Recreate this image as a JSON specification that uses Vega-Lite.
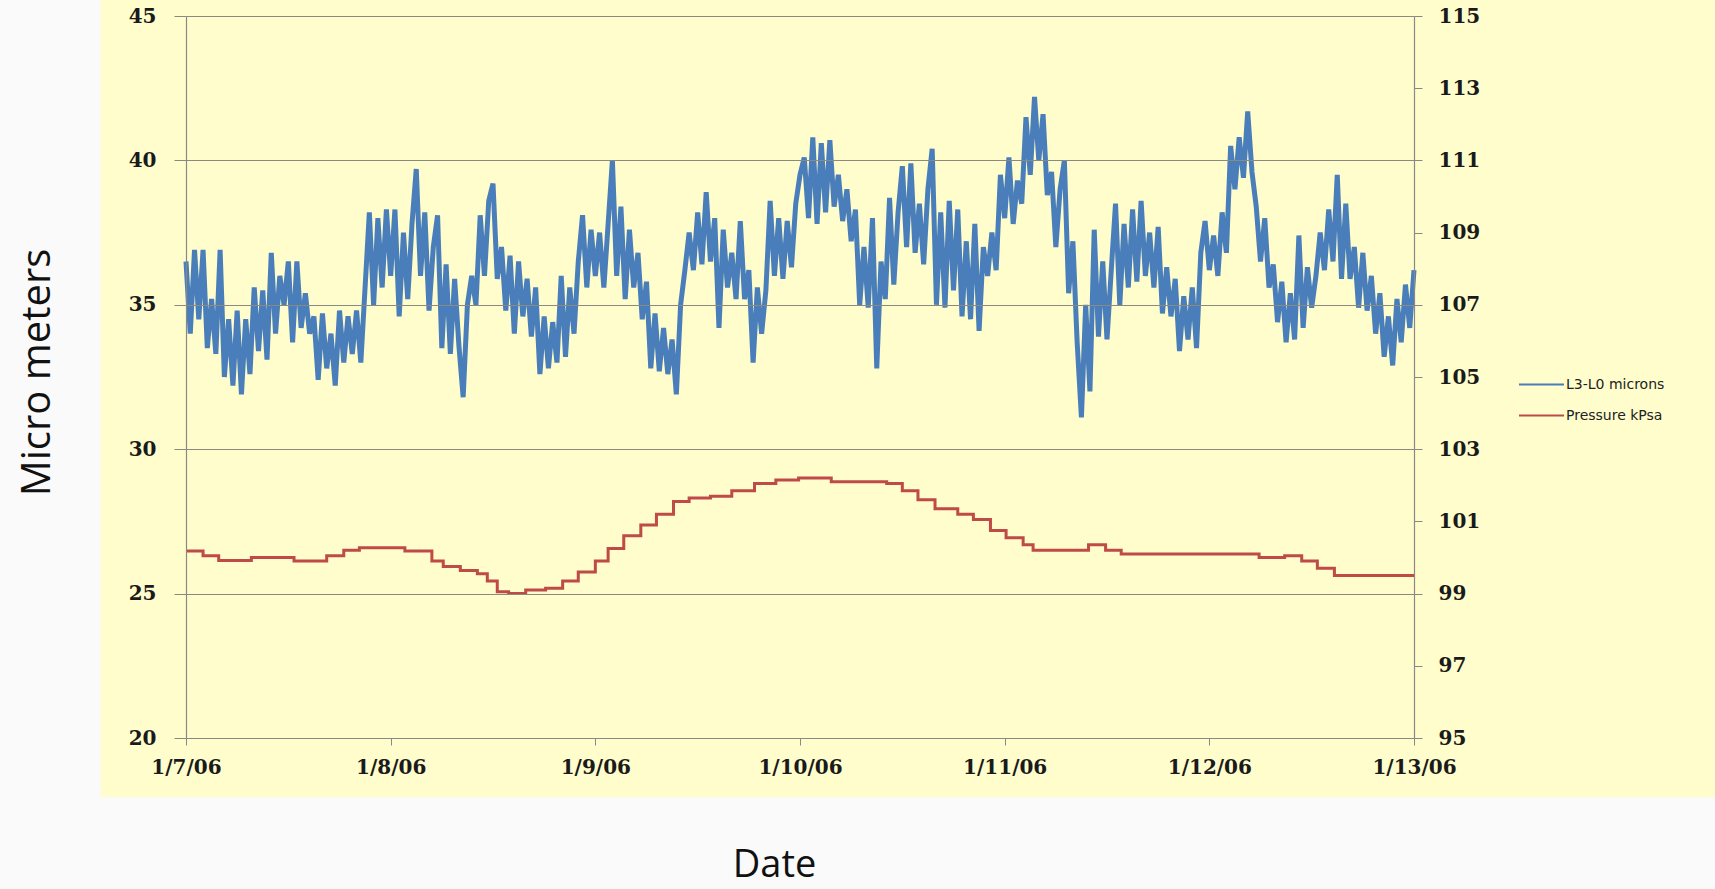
{
  "$schema": "https://vega.github.io/schema/vega-lite/v6.json",
  "width": 1228,
  "height": 722,
  "autosize": {"type": "none"},
  "padding": {"left": 186, "top": 16, "right": 301, "bottom": 151},
  "background": "#fafafa",
  "config": {"view": {"stroke": null}},
  "datasets": {
    "micro": [
      {"t":"2006-01-07T00:00","v":36.5},{"t":"2006-01-07T00:30","v":34.0},{"t":"2006-01-07T01:00","v":36.9},{"t":"2006-01-07T01:30","v":34.5},{"t":"2006-01-07T02:00","v":36.9},{"t":"2006-01-07T02:30","v":33.5},{"t":"2006-01-07T03:00","v":35.2},{"t":"2006-01-07T03:30","v":33.3},{"t":"2006-01-07T04:00","v":36.9},{"t":"2006-01-07T04:30","v":32.5},{"t":"2006-01-07T05:00","v":34.5},{"t":"2006-01-07T05:30","v":32.2},{"t":"2006-01-07T06:00","v":34.8},{"t":"2006-01-07T06:30","v":31.9},{"t":"2006-01-07T07:00","v":34.5},{"t":"2006-01-07T07:30","v":32.6},{"t":"2006-01-07T08:00","v":35.6},{"t":"2006-01-07T08:30","v":33.4},{"t":"2006-01-07T09:00","v":35.5},{"t":"2006-01-07T09:30","v":33.1},{"t":"2006-01-07T10:00","v":36.8},{"t":"2006-01-07T10:30","v":34.0},{"t":"2006-01-07T11:00","v":36.0},{"t":"2006-01-07T11:30","v":35.0},{"t":"2006-01-07T12:00","v":36.5},{"t":"2006-01-07T12:30","v":33.7},{"t":"2006-01-07T13:00","v":36.5},{"t":"2006-01-07T13:30","v":34.2},{"t":"2006-01-07T14:00","v":35.4},{"t":"2006-01-07T14:30","v":34.0},{"t":"2006-01-07T15:00","v":34.6},{"t":"2006-01-07T15:30","v":32.4},{"t":"2006-01-07T16:00","v":34.7},{"t":"2006-01-07T16:30","v":32.8},{"t":"2006-01-07T17:00","v":34.0},{"t":"2006-01-07T17:30","v":32.2},{"t":"2006-01-07T18:00","v":34.8},{"t":"2006-01-07T18:30","v":33.0},{"t":"2006-01-07T19:00","v":34.6},{"t":"2006-01-07T19:30","v":33.3},{"t":"2006-01-07T20:00","v":34.8},{"t":"2006-01-07T20:30","v":33.0},{"t":"2006-01-07T21:00","v":35.6},{"t":"2006-01-07T21:30","v":38.2},{"t":"2006-01-07T22:00","v":35.0},{"t":"2006-01-07T22:30","v":38.0},{"t":"2006-01-07T23:00","v":35.6},{"t":"2006-01-07T23:30","v":38.3},
      {"t":"2006-01-08T00:00","v":36.0},{"t":"2006-01-08T00:30","v":38.3},{"t":"2006-01-08T01:00","v":34.6},{"t":"2006-01-08T01:30","v":37.5},{"t":"2006-01-08T02:00","v":35.2},{"t":"2006-01-08T02:30","v":37.8},{"t":"2006-01-08T03:00","v":39.7},{"t":"2006-01-08T03:30","v":36.0},{"t":"2006-01-08T04:00","v":38.2},{"t":"2006-01-08T04:30","v":34.8},{"t":"2006-01-08T05:00","v":37.0},{"t":"2006-01-08T05:30","v":38.1},{"t":"2006-01-08T06:00","v":33.5},{"t":"2006-01-08T06:30","v":36.4},{"t":"2006-01-08T07:00","v":33.3},{"t":"2006-01-08T07:30","v":35.9},{"t":"2006-01-08T08:00","v":33.6},{"t":"2006-01-08T08:30","v":31.8},{"t":"2006-01-08T09:00","v":35.0},{"t":"2006-01-08T09:30","v":36.0},{"t":"2006-01-08T10:00","v":35.0},{"t":"2006-01-08T10:30","v":38.1},{"t":"2006-01-08T11:00","v":36.0},{"t":"2006-01-08T11:30","v":38.6},{"t":"2006-01-08T12:00","v":39.2},{"t":"2006-01-08T12:30","v":35.9},{"t":"2006-01-08T13:00","v":37.0},{"t":"2006-01-08T13:30","v":34.8},{"t":"2006-01-08T14:00","v":36.7},{"t":"2006-01-08T14:30","v":34.0},{"t":"2006-01-08T15:00","v":36.5},{"t":"2006-01-08T15:30","v":34.6},{"t":"2006-01-08T16:00","v":35.9},{"t":"2006-01-08T16:30","v":33.9},{"t":"2006-01-08T17:00","v":35.6},{"t":"2006-01-08T17:30","v":32.6},{"t":"2006-01-08T18:00","v":34.6},{"t":"2006-01-08T18:30","v":32.8},{"t":"2006-01-08T19:00","v":34.4},{"t":"2006-01-08T19:30","v":33.0},{"t":"2006-01-08T20:00","v":36.0},{"t":"2006-01-08T20:30","v":33.2},{"t":"2006-01-08T21:00","v":35.6},{"t":"2006-01-08T21:30","v":34.0},{"t":"2006-01-08T22:00","v":36.5},{"t":"2006-01-08T22:30","v":38.1},{"t":"2006-01-08T23:00","v":35.6},{"t":"2006-01-08T23:30","v":37.6},
      {"t":"2006-01-09T00:00","v":36.0},{"t":"2006-01-09T00:30","v":37.5},{"t":"2006-01-09T01:00","v":35.6},{"t":"2006-01-09T01:30","v":37.8},{"t":"2006-01-09T02:00","v":40.0},{"t":"2006-01-09T02:30","v":36.0},{"t":"2006-01-09T03:00","v":38.4},{"t":"2006-01-09T03:30","v":35.2},{"t":"2006-01-09T04:00","v":37.6},{"t":"2006-01-09T04:30","v":35.6},{"t":"2006-01-09T05:00","v":36.8},{"t":"2006-01-09T05:30","v":34.5},{"t":"2006-01-09T06:00","v":35.8},{"t":"2006-01-09T06:30","v":32.8},{"t":"2006-01-09T07:00","v":34.7},{"t":"2006-01-09T07:30","v":32.7},{"t":"2006-01-09T08:00","v":34.2},{"t":"2006-01-09T08:30","v":32.6},{"t":"2006-01-09T09:00","v":33.8},{"t":"2006-01-09T09:30","v":31.9},{"t":"2006-01-09T10:00","v":35.0},{"t":"2006-01-09T10:30","v":36.2},{"t":"2006-01-09T11:00","v":37.5},{"t":"2006-01-09T11:30","v":36.2},{"t":"2006-01-09T12:00","v":38.2},{"t":"2006-01-09T12:30","v":36.4},{"t":"2006-01-09T13:00","v":38.9},{"t":"2006-01-09T13:30","v":36.5},{"t":"2006-01-09T14:00","v":38.0},{"t":"2006-01-09T14:30","v":34.2},{"t":"2006-01-09T15:00","v":37.6},{"t":"2006-01-09T15:30","v":35.6},{"t":"2006-01-09T16:00","v":36.8},{"t":"2006-01-09T16:30","v":35.2},{"t":"2006-01-09T17:00","v":37.9},{"t":"2006-01-09T17:30","v":35.2},{"t":"2006-01-09T18:00","v":36.2},{"t":"2006-01-09T18:30","v":33.0},{"t":"2006-01-09T19:00","v":35.6},{"t":"2006-01-09T19:30","v":34.0},{"t":"2006-01-09T20:00","v":35.5},{"t":"2006-01-09T20:30","v":38.6},{"t":"2006-01-09T21:00","v":36.0},{"t":"2006-01-09T21:30","v":38.0},{"t":"2006-01-09T22:00","v":35.9},{"t":"2006-01-09T22:30","v":37.9},{"t":"2006-01-09T23:00","v":36.3},{"t":"2006-01-09T23:30","v":38.5},
      {"t":"2006-01-10T00:00","v":39.5},{"t":"2006-01-10T00:30","v":40.1},{"t":"2006-01-10T01:00","v":38.0},{"t":"2006-01-10T01:30","v":40.8},{"t":"2006-01-10T02:00","v":37.8},{"t":"2006-01-10T02:30","v":40.6},{"t":"2006-01-10T03:00","v":38.2},{"t":"2006-01-10T03:30","v":40.7},{"t":"2006-01-10T04:00","v":38.4},{"t":"2006-01-10T04:30","v":39.5},{"t":"2006-01-10T05:00","v":37.9},{"t":"2006-01-10T05:30","v":39.0},{"t":"2006-01-10T06:00","v":37.2},{"t":"2006-01-10T06:30","v":38.3},{"t":"2006-01-10T07:00","v":35.0},{"t":"2006-01-10T07:30","v":37.0},{"t":"2006-01-10T08:00","v":34.9},{"t":"2006-01-10T08:30","v":38.0},{"t":"2006-01-10T09:00","v":32.8},{"t":"2006-01-10T09:30","v":36.5},{"t":"2006-01-10T10:00","v":35.2},{"t":"2006-01-10T10:30","v":38.7},{"t":"2006-01-10T11:00","v":35.7},{"t":"2006-01-10T11:30","v":38.2},{"t":"2006-01-10T12:00","v":39.8},{"t":"2006-01-10T12:30","v":37.0},{"t":"2006-01-10T13:00","v":39.9},{"t":"2006-01-10T13:30","v":36.8},{"t":"2006-01-10T14:00","v":38.5},{"t":"2006-01-10T14:30","v":36.4},{"t":"2006-01-10T15:00","v":39.0},{"t":"2006-01-10T15:30","v":40.4},{"t":"2006-01-10T16:00","v":35.0},{"t":"2006-01-10T16:30","v":38.2},{"t":"2006-01-10T17:00","v":34.9},{"t":"2006-01-10T17:30","v":38.6},{"t":"2006-01-10T18:00","v":35.5},{"t":"2006-01-10T18:30","v":38.3},{"t":"2006-01-10T19:00","v":34.6},{"t":"2006-01-10T19:30","v":37.2},{"t":"2006-01-10T20:00","v":34.5},{"t":"2006-01-10T20:30","v":37.8},{"t":"2006-01-10T21:00","v":34.1},{"t":"2006-01-10T21:30","v":37.0},{"t":"2006-01-10T22:00","v":36.0},{"t":"2006-01-10T22:30","v":37.5},{"t":"2006-01-10T23:00","v":36.2},{"t":"2006-01-10T23:30","v":39.5},
      {"t":"2006-01-11T00:00","v":38.0},{"t":"2006-01-11T00:30","v":40.1},{"t":"2006-01-11T01:00","v":37.8},{"t":"2006-01-11T01:30","v":39.3},{"t":"2006-01-11T02:00","v":38.5},{"t":"2006-01-11T02:30","v":41.5},{"t":"2006-01-11T03:00","v":39.5},{"t":"2006-01-11T03:30","v":42.2},{"t":"2006-01-11T04:00","v":40.0},{"t":"2006-01-11T04:30","v":41.6},{"t":"2006-01-11T05:00","v":38.8},{"t":"2006-01-11T05:30","v":39.6},{"t":"2006-01-11T06:00","v":37.0},{"t":"2006-01-11T06:30","v":39.0},{"t":"2006-01-11T07:00","v":40.0},{"t":"2006-01-11T07:30","v":35.4},{"t":"2006-01-11T08:00","v":37.2},{"t":"2006-01-11T08:30","v":33.7},{"t":"2006-01-11T09:00","v":31.1},{"t":"2006-01-11T09:30","v":35.0},{"t":"2006-01-11T10:00","v":32.0},{"t":"2006-01-11T10:30","v":37.6},{"t":"2006-01-11T11:00","v":33.9},{"t":"2006-01-11T11:30","v":36.5},{"t":"2006-01-11T12:00","v":33.8},{"t":"2006-01-11T12:30","v":36.2},{"t":"2006-01-11T13:00","v":38.5},{"t":"2006-01-11T13:30","v":35.0},{"t":"2006-01-11T14:00","v":37.8},{"t":"2006-01-11T14:30","v":35.6},{"t":"2006-01-11T15:00","v":38.3},{"t":"2006-01-11T15:30","v":35.8},{"t":"2006-01-11T16:00","v":38.6},{"t":"2006-01-11T16:30","v":36.0},{"t":"2006-01-11T17:00","v":37.5},{"t":"2006-01-11T17:30","v":35.6},{"t":"2006-01-11T18:00","v":37.7},{"t":"2006-01-11T18:30","v":34.7},{"t":"2006-01-11T19:00","v":36.3},{"t":"2006-01-11T19:30","v":34.6},{"t":"2006-01-11T20:00","v":35.9},{"t":"2006-01-11T20:30","v":33.4},{"t":"2006-01-11T21:00","v":35.3},{"t":"2006-01-11T21:30","v":33.8},{"t":"2006-01-11T22:00","v":35.6},{"t":"2006-01-11T22:30","v":33.5},{"t":"2006-01-11T23:00","v":36.8},{"t":"2006-01-11T23:30","v":37.9},
      {"t":"2006-01-12T00:00","v":36.2},{"t":"2006-01-12T00:30","v":37.4},{"t":"2006-01-12T01:00","v":36.0},{"t":"2006-01-12T01:30","v":38.2},{"t":"2006-01-12T02:00","v":36.8},{"t":"2006-01-12T02:30","v":40.5},{"t":"2006-01-12T03:00","v":39.0},{"t":"2006-01-12T03:30","v":40.8},{"t":"2006-01-12T04:00","v":39.4},{"t":"2006-01-12T04:30","v":41.7},{"t":"2006-01-12T05:00","v":39.6},{"t":"2006-01-12T05:30","v":38.4},{"t":"2006-01-12T06:00","v":36.5},{"t":"2006-01-12T06:30","v":38.0},{"t":"2006-01-12T07:00","v":35.6},{"t":"2006-01-12T07:30","v":36.4},{"t":"2006-01-12T08:00","v":34.4},{"t":"2006-01-12T08:30","v":35.8},{"t":"2006-01-12T09:00","v":33.7},{"t":"2006-01-12T09:30","v":35.4},{"t":"2006-01-12T10:00","v":33.8},{"t":"2006-01-12T10:30","v":37.4},{"t":"2006-01-12T11:00","v":34.2},{"t":"2006-01-12T11:30","v":36.3},{"t":"2006-01-12T12:00","v":34.9},{"t":"2006-01-12T12:30","v":36.0},{"t":"2006-01-12T13:00","v":37.5},{"t":"2006-01-12T13:30","v":36.2},{"t":"2006-01-12T14:00","v":38.3},{"t":"2006-01-12T14:30","v":36.5},{"t":"2006-01-12T15:00","v":39.5},{"t":"2006-01-12T15:30","v":35.9},{"t":"2006-01-12T16:00","v":38.5},{"t":"2006-01-12T16:30","v":35.9},{"t":"2006-01-12T17:00","v":37.0},{"t":"2006-01-12T17:30","v":34.9},{"t":"2006-01-12T18:00","v":36.8},{"t":"2006-01-12T18:30","v":34.8},{"t":"2006-01-12T19:00","v":36.0},{"t":"2006-01-12T19:30","v":34.0},{"t":"2006-01-12T20:00","v":35.4},{"t":"2006-01-12T20:30","v":33.2},{"t":"2006-01-12T21:00","v":34.6},{"t":"2006-01-12T21:30","v":32.9},{"t":"2006-01-12T22:00","v":35.2},{"t":"2006-01-12T22:30","v":33.7},{"t":"2006-01-12T23:00","v":35.7},{"t":"2006-01-12T23:30","v":34.2},
      {"t":"2006-01-13T00:00","v":36.2}
    ],
    "pressure": [
      {"t":"2006-01-07T00:00","p":100.18},{"t":"2006-01-07T02:00","p":100.05},{"t":"2006-01-07T03:50","p":99.92},{"t":"2006-01-07T07:40","p":100.0},{"t":"2006-01-07T11:30","p":100.0},{"t":"2006-01-07T12:40","p":99.9},{"t":"2006-01-07T14:40","p":99.9},{"t":"2006-01-07T16:30","p":100.05},{"t":"2006-01-07T18:30","p":100.2},{"t":"2006-01-07T20:20","p":100.27},
      {"t":"2006-01-08T00:10","p":100.27},{"t":"2006-01-08T01:40","p":100.18},{"t":"2006-01-08T03:40","p":100.18},{"t":"2006-01-08T04:50","p":99.9},{"t":"2006-01-08T06:10","p":99.75},{"t":"2006-01-08T08:10","p":99.64},{"t":"2006-01-08T10:10","p":99.55},{"t":"2006-01-08T11:20","p":99.35},{"t":"2006-01-08T12:30","p":99.05},{"t":"2006-01-08T13:50","p":99.0},{"t":"2006-01-08T15:50","p":99.1},{"t":"2006-01-08T18:10","p":99.15},{"t":"2006-01-08T20:10","p":99.35},{"t":"2006-01-08T22:00","p":99.6},
      {"t":"2006-01-09T00:00","p":99.9},{"t":"2006-01-09T01:30","p":100.25},{"t":"2006-01-09T03:20","p":100.6},{"t":"2006-01-09T05:20","p":100.9},{"t":"2006-01-09T07:10","p":101.2},{"t":"2006-01-09T09:10","p":101.55},{"t":"2006-01-09T11:00","p":101.65},{"t":"2006-01-09T13:30","p":101.7},{"t":"2006-01-09T16:00","p":101.85},{"t":"2006-01-09T18:40","p":102.05},{"t":"2006-01-09T21:10","p":102.15},{"t":"2006-01-09T23:50","p":102.2},
      {"t":"2006-01-10T03:40","p":102.1},{"t":"2006-01-10T10:10","p":102.05},{"t":"2006-01-10T12:00","p":101.85},{"t":"2006-01-10T13:50","p":101.6},{"t":"2006-01-10T15:50","p":101.35},{"t":"2006-01-10T18:30","p":101.2},{"t":"2006-01-10T20:20","p":101.05},{"t":"2006-01-10T22:20","p":100.75},
      {"t":"2006-01-11T00:10","p":100.55},{"t":"2006-01-11T02:10","p":100.35},{"t":"2006-01-11T03:20","p":100.2},{"t":"2006-01-11T07:50","p":100.2},{"t":"2006-01-11T09:50","p":100.35},{"t":"2006-01-11T11:50","p":100.2},{"t":"2006-01-11T13:40","p":100.1},
      {"t":"2006-01-12T03:10","p":100.1},{"t":"2006-01-12T05:50","p":100.0},{"t":"2006-01-12T08:50","p":100.05},{"t":"2006-01-12T10:50","p":99.9},{"t":"2006-01-12T12:40","p":99.7},{"t":"2006-01-12T14:40","p":99.5},
      {"t":"2006-01-13T00:00","p":99.5}
    ]
  },
  "layer": [
    {
      "layer": [
        {
          "data": {"values": [{}]},
          "mark": {"type": "rect", "color": "#fffdcc"},
          "encoding": {
            "x": {"datum": {"year": 2006, "month": 1, "date": 6, "hours": 14, "minutes": 0}, "type": "temporal"},
            "x2": {"datum": {"year": 2006, "month": 1, "date": 14, "hours": 20, "minutes": 0}},
            "y": {"datum": 46.5, "type": "quantitative"},
            "y2": {"datum": 17.96}
          }
        },
        {
          "data": {"name": "micro"},
          "mark": {"type": "line", "strokeWidth": 5, "strokeJoin": "miter", "interpolate": "linear"},
          "encoding": {
            "x": {
              "field": "t", "type": "temporal",
              "scale": {"domain": [{"year": 2006, "month": 1, "date": 7}, {"year": 2006, "month": 1, "date": 13}], "nice": false},
              "axis": {
                "zindex": 1,
                "values": [{"year": 2006, "month": 1, "date": 7}, {"year": 2006, "month": 1, "date": 8}, {"year": 2006, "month": 1, "date": 9}, {"year": 2006, "month": 1, "date": 10}, {"year": 2006, "month": 1, "date": 11}, {"year": 2006, "month": 1, "date": 12}, {"year": 2006, "month": 1, "date": 13}],
                "format": "%-m/%-d/%y",
                "grid": false,
                "title": "Date",
                "titleFont": "Open Sans", "titleFontSize": 38, "titleFontWeight": "normal", "titleColor": "#111111",
                "titleX": 588, "titleY": 138, "titleAnchor": null, "titleAlign": "center", "titleBaseline": "alphabetic",
                "labelFont": "DejaVu Serif", "labelFontSize": 20, "labelFontWeight": "bold", "labelColor": "#1a1a1a",
                "labelFlush": false, "labelOverlap": false, "labelPadding": 12,
                "tickSize": 7, "tickColor": "#888888", "domainColor": "#888888", "domainWidth": 1.2
              }
            },
            "y": {
              "field": "v", "type": "quantitative",
              "scale": {"domain": [20, 45], "nice": false, "zero": false},
              "axis": {
                "zindex": 1,
                "orient": "left",
                "values": [20, 25, 30, 35, 40, 45],
                "grid": true, "gridColor": "#8a8a80", "gridWidth": 1.1,
                "title": "Micro meters",
                "titleFont": "Open Sans", "titleFontSize": 40, "titleFontWeight": "normal", "titleColor": "#111111",
                "titleAngle": -90, "titleX": -137, "titleY": 356, "titleAlign": "center", "titleBaseline": "alphabetic", "titleAnchor": null,
                "labelFont": "DejaVu Serif", "labelFontSize": 20, "labelFontWeight": "bold", "labelColor": "#1a1a1a",
                "labelPadding": 18, "labelFlush": false,
                "tickSize": 12, "tickColor": "#888888", "domainColor": "#888888", "domainWidth": 1.2
              }
            },
            "color": {
              "datum": "L3-L0 microns",
              "scale": {"domain": ["L3-L0 microns", "Pressure kPsa"], "range": ["#4a7ebb", "#be4b48"]},
              "legend": {
                "orient": "none", "legendX": 1332, "legendY": 345,
                "title": null,
                "symbolType": "stroke", "symbolSize": 2025, "symbolStrokeWidth": 2,
                "labelFont": "DejaVu Sans", "labelFontSize": 14, "labelColor": "#222222", "labelOffset": 1,
                "rowPadding": -16
              }
            }
          }
        }
      ]
    },
    {
      "data": {"name": "pressure"},
      "mark": {"type": "line", "strokeWidth": 3, "interpolate": "step-after"},
      "encoding": {
        "x": {"field": "t", "type": "temporal"},
        "y": {
          "field": "p", "type": "quantitative",
          "scale": {"domain": [95, 115], "nice": false, "zero": false},
          "axis": {
            "zindex": 1,
            "orient": "right",
            "values": [95, 97, 99, 101, 103, 105, 107, 109, 111, 113, 115],
            "grid": false, "title": null,
            "labelFont": "DejaVu Serif", "labelFontSize": 20, "labelFontWeight": "bold", "labelColor": "#1a1a1a",
            "labelPadding": 16, "labelFlush": false,
            "tickSize": 8, "tickColor": "#888888", "domainColor": "#888888", "domainWidth": 1.2
          }
        },
        "color": {"datum": "Pressure kPsa"}
      }
    }
  ],
  "resolve": {"scale": {"y": "independent"}}
}
